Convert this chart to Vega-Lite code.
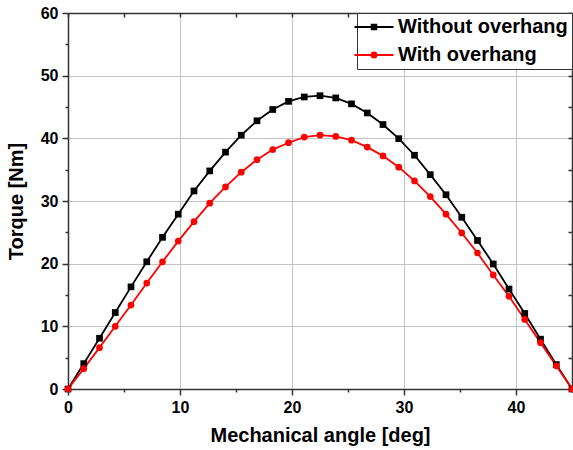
{
  "$schema": "https://vega.github.io/schema/vega-lite/v6.json",
  "width": 504,
  "height": 376,
  "autosize": {"type": "none"},
  "padding": {"left": 68, "top": 13, "right": 1, "bottom": 61},
  "background": "#ffffff",
  "config": {"view": {"stroke": null}},
  "datasets": {
    "torque": [
      {"angle": 0, "torque": 0, "series": "Without overhang"},
      {"angle": 1.406, "torque": 4.05, "series": "Without overhang"},
      {"angle": 2.813, "torque": 8.1, "series": "Without overhang"},
      {"angle": 4.219, "torque": 12.2, "series": "Without overhang"},
      {"angle": 5.625, "torque": 16.3, "series": "Without overhang"},
      {"angle": 7.031, "torque": 20.3, "series": "Without overhang"},
      {"angle": 8.438, "torque": 24.2, "series": "Without overhang"},
      {"angle": 9.844, "torque": 27.9, "series": "Without overhang"},
      {"angle": 11.25, "torque": 31.6, "series": "Without overhang"},
      {"angle": 12.656, "torque": 34.8, "series": "Without overhang"},
      {"angle": 14.063, "torque": 37.8, "series": "Without overhang"},
      {"angle": 15.469, "torque": 40.5, "series": "Without overhang"},
      {"angle": 16.875, "torque": 42.8, "series": "Without overhang"},
      {"angle": 18.281, "torque": 44.6, "series": "Without overhang"},
      {"angle": 19.688, "torque": 45.9, "series": "Without overhang"},
      {"angle": 21.094, "torque": 46.6, "series": "Without overhang"},
      {"angle": 22.5, "torque": 46.8, "series": "Without overhang"},
      {"angle": 23.906, "torque": 46.45, "series": "Without overhang"},
      {"angle": 25.313, "torque": 45.5, "series": "Without overhang"},
      {"angle": 26.719, "torque": 44.05, "series": "Without overhang"},
      {"angle": 28.125, "torque": 42.2, "series": "Without overhang"},
      {"angle": 29.531, "torque": 39.95, "series": "Without overhang"},
      {"angle": 30.938, "torque": 37.3, "series": "Without overhang"},
      {"angle": 32.344, "torque": 34.2, "series": "Without overhang"},
      {"angle": 33.75, "torque": 31.0, "series": "Without overhang"},
      {"angle": 35.156, "torque": 27.4, "series": "Without overhang"},
      {"angle": 36.563, "torque": 23.7, "series": "Without overhang"},
      {"angle": 37.969, "torque": 19.95, "series": "Without overhang"},
      {"angle": 39.375, "torque": 15.95, "series": "Without overhang"},
      {"angle": 40.781, "torque": 12.05, "series": "Without overhang"},
      {"angle": 42.188, "torque": 7.95, "series": "Without overhang"},
      {"angle": 43.594, "torque": 3.9, "series": "Without overhang"},
      {"angle": 45, "torque": 0, "series": "Without overhang"},
      {"angle": 0, "torque": 0, "series": "With overhang"},
      {"angle": 1.406, "torque": 3.25, "series": "With overhang"},
      {"angle": 2.813, "torque": 6.6, "series": "With overhang"},
      {"angle": 4.219, "torque": 10.0, "series": "With overhang"},
      {"angle": 5.625, "torque": 13.4, "series": "With overhang"},
      {"angle": 7.031, "torque": 16.9, "series": "With overhang"},
      {"angle": 8.438, "torque": 20.3, "series": "With overhang"},
      {"angle": 9.844, "torque": 23.6, "series": "With overhang"},
      {"angle": 11.25, "torque": 26.7, "series": "With overhang"},
      {"angle": 12.656, "torque": 29.65, "series": "With overhang"},
      {"angle": 14.063, "torque": 32.25, "series": "With overhang"},
      {"angle": 15.469, "torque": 34.6, "series": "With overhang"},
      {"angle": 16.875, "torque": 36.6, "series": "With overhang"},
      {"angle": 18.281, "torque": 38.2, "series": "With overhang"},
      {"angle": 19.688, "torque": 39.3, "series": "With overhang"},
      {"angle": 21.094, "torque": 40.2, "series": "With overhang"},
      {"angle": 22.5, "torque": 40.5, "series": "With overhang"},
      {"angle": 23.906, "torque": 40.3, "series": "With overhang"},
      {"angle": 25.313, "torque": 39.7, "series": "With overhang"},
      {"angle": 26.719, "torque": 38.6, "series": "With overhang"},
      {"angle": 28.125, "torque": 37.2, "series": "With overhang"},
      {"angle": 29.531, "torque": 35.4, "series": "With overhang"},
      {"angle": 30.938, "torque": 33.2, "series": "With overhang"},
      {"angle": 32.344, "torque": 30.7, "series": "With overhang"},
      {"angle": 33.75, "torque": 27.9, "series": "With overhang"},
      {"angle": 35.156, "torque": 24.9, "series": "With overhang"},
      {"angle": 36.563, "torque": 21.7, "series": "With overhang"},
      {"angle": 37.969, "torque": 18.2, "series": "With overhang"},
      {"angle": 39.375, "torque": 14.8, "series": "With overhang"},
      {"angle": 40.781, "torque": 11.1, "series": "With overhang"},
      {"angle": 42.188, "torque": 7.4, "series": "With overhang"},
      {"angle": 43.594, "torque": 3.7, "series": "With overhang"},
      {"angle": 45, "torque": 0, "series": "With overhang"}
    ]
  },
  "data": {"name": "torque"},
  "layer": [
    {
      "mark": {"type": "line", "strokeWidth": 1.8, "clip": false},
      "encoding": {
        "x": {
          "field": "angle", "type": "quantitative",
          "scale": {"domain": [0, 45], "nice": false, "zero": false},
          "axis": {
            "orient": "bottom",
            "values": [0, 5, 10, 15, 20, 25, 30, 35, 40, 45],
            "labelExpr": "datum.value % 10 === 0 ? datum.label : ''",
            "grid": true,
            "gridColor": "#c4c4c4",
            "gridWidth": 1,
            "gridOpacity": {"condition": {"test": "datum.value % 10 === 0 && datum.value > 0 && datum.value < 45", "value": 1}, "value": 0},
            "tickSize": {"condition": {"test": "datum.value % 10 === 0", "value": 6}, "value": 3},
            "tickColor": "#333333", "tickWidth": 1.5,
            "domainColor": "#333333", "domainWidth": 1.5,
            "labelFont": "Liberation Sans", "labelFontWeight": "bold", "labelFontSize": 16, "labelColor": "#000000",
            "labelPadding": 4, "labelFlush": false,
            "title": "Mechanical angle [deg]",
            "titleFont": "Liberation Sans", "titleFontWeight": "bold", "titleFontSize": 20, "titleColor": "#000000",
            "titlePadding": 10
          }
        },
        "y": {
          "field": "torque", "type": "quantitative",
          "scale": {"domain": [0, 60], "nice": false},
          "axis": {
            "orient": "left",
            "values": [0, 5, 10, 15, 20, 25, 30, 35, 40, 45, 50, 55, 60],
            "labelExpr": "datum.value % 10 === 0 ? datum.label : ''",
            "grid": true,
            "gridColor": "#c4c4c4",
            "gridWidth": 1,
            "gridOpacity": {"condition": {"test": "datum.value % 10 === 0 && datum.value > 0 && datum.value < 60", "value": 1}, "value": 0},
            "tickSize": {"condition": {"test": "datum.value % 10 === 0", "value": 6}, "value": 3},
            "tickColor": "#333333", "tickWidth": 1.5,
            "domainColor": "#333333", "domainWidth": 1.5,
            "labelFont": "Liberation Sans", "labelFontWeight": "bold", "labelFontSize": 16, "labelColor": "#000000",
            "labelPadding": 4, "labelFlush": false,
            "title": "Torque [Nm]",
            "titleFont": "Liberation Sans", "titleFontWeight": "bold", "titleFontSize": 20, "titleColor": "#000000",
            "titlePadding": 14
          }
        },
        "color": {
          "field": "series", "type": "nominal",
          "scale": {"domain": ["Without overhang", "With overhang"], "range": ["#000000", "#ff0000"]},
          "legend": {
            "orient": "top-right", "offset": 0, "title": null,
            "symbolType": "M-1,0H1",
            "symbolSize": 100, "symbolStrokeWidth": 2, "symbolOffset": 3,
            "labelFont": "Liberation Sans", "labelFontWeight": "bold", "labelFontSize": 20, "labelColor": "#000000",
            "labelOffset": 14, "labelLimit": 400, "padding": 4, "rowPadding": 8,
            "strokeColor": "#333333", "fillColor": "#ffffff",
            "encode": {
              "symbols": {
                "enter": {
                  "shape": {"signal": "datum.value === 'With overhang' ? 'M-3.9,0H3.9M-0.5,0A0.5,0.5 0 1,0 0.5,0A0.5,0.5 0 1,0 -0.5,0Z' : 'M-3.9,0H3.9M-0.45,-0.45H0.45V0.45H-0.45Z'"}
                },
                "update": {
                  "shape": {"signal": "datum.value === 'With overhang' ? 'M-3.9,0H3.9M-0.5,0A0.5,0.5 0 1,0 0.5,0A0.5,0.5 0 1,0 -0.5,0Z' : 'M-3.9,0H3.9M-0.45,-0.45H0.45V0.45H-0.45Z'"},
                  "fill": {"signal": "datum.value === 'With overhang' ? '#ff0000' : '#000000'"},
                  "stroke": {"signal": "datum.value === 'With overhang' ? '#ff0000' : '#000000'"},
                  "strokeWidth": {"value": 2},
                  "opacity": {"value": 1},
                  "fillOpacity": {"value": 1}
                }
              }
            }
          }
        }
      }
    },
    {
      "mark": {"type": "point", "filled": true, "opacity": 1, "clip": false},
      "encoding": {
        "x": {
          "field": "angle", "type": "quantitative",
          "axis": {
            "orient": "top",
            "values": [0, 5, 10, 15, 20, 25, 30, 35, 40, 45],
            "labels": false, "grid": false, "title": null,
            "tickSize": -4, "tickColor": "#333333", "tickWidth": 1.5,
            "domainColor": "#333333", "domainWidth": 1.5
          }
        },
        "y": {
          "field": "torque", "type": "quantitative",
          "axis": {
            "orient": "right",
            "values": [0, 5, 10, 15, 20, 25, 30, 35, 40, 45, 50, 55, 60],
            "labels": false, "grid": false, "title": null,
            "tickSize": -4, "tickColor": "#333333", "tickWidth": 1.5,
            "domainColor": "#333333", "domainWidth": 1.5
          }
        },
        "color": {"field": "series", "type": "nominal"},
        "shape": {
          "condition": {"test": "datum.series === 'With overhang'", "value": "circle"},
          "value": "square"
        },
        "size": {"value": 45}
      }
    }
  ],
  "resolve": {"axis": {"x": "independent", "y": "independent"}}
}
